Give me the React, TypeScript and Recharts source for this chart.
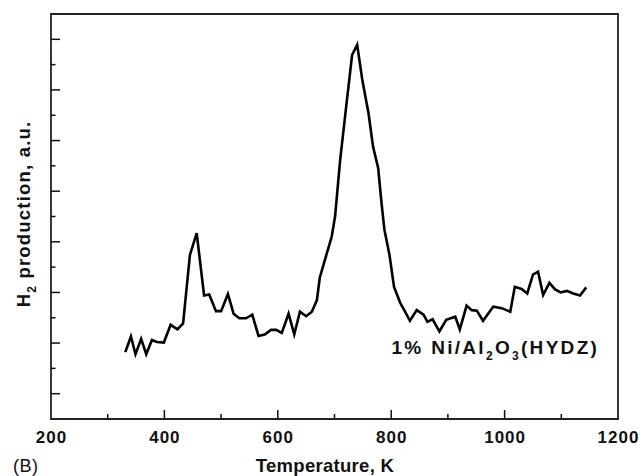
import React from 'react';
import { LineChart, Line, XAxis, YAxis, ReferenceArea } from 'recharts';

const temperatureK = [
  331, 341, 349, 359, 368, 378, 387, 399, 411, 423, 433, 445, 457, 470, 479, 491, 500, 512, 522, 532,
  544, 555, 566, 577, 588, 597, 607, 619, 629, 639, 650, 660, 669, 674, 683, 695, 701, 710, 720, 731,
  740, 749, 760, 768, 777, 783, 788, 797, 805, 816, 823, 833, 845, 857, 864, 873, 885, 897, 913, 921,
  933, 942, 951, 962, 980, 995, 1010, 1018, 1030, 1040, 1050, 1059, 1068, 1079, 1089, 1099, 1110, 1121, 1133, 1144,
];

const h2Signal = [
  0.82, 1.13, 0.78, 1.08, 0.78, 1.06, 1.02, 1.01, 1.36, 1.27, 1.39, 2.74, 3.17, 1.94, 1.96, 1.63, 1.63, 1.97, 1.58, 1.49,
  1.49, 1.56, 1.14, 1.17, 1.26, 1.26, 1.2, 1.58, 1.17, 1.62, 1.53, 1.62, 1.85, 2.29, 2.64, 3.1, 3.5, 4.62, 5.61, 6.69,
  6.89, 6.2, 5.54, 4.88, 4.46, 3.76, 3.24, 2.74, 2.11, 1.79, 1.65, 1.44, 1.65, 1.56, 1.42, 1.47, 1.23, 1.46, 1.52, 1.27,
  1.74, 1.65, 1.64, 1.44, 1.72, 1.69, 1.62, 2.11, 2.07, 1.98, 2.35, 2.41, 1.95, 2.19, 2.06, 2.0, 2.03, 1.98, 1.94, 2.1,
];

const xTicks = [200, 300, 400, 500, 600, 700, 800, 900, 1000, 1100, 1200];
const xTickLabels = ['200', '', '400', '', '600', '', '800', '', '1000', '', '1200'];
const yTicks = [0, 0.5, 1, 1.5, 2, 2.5, 3, 3.5, 4, 4.5, 5, 5.5, 6, 6.5, 7];

const xAxisTitle = 'Temperature, K';
const yAxisTitle = 'production, a.u.';
const panelLabel = '(B)';

const data = temperatureK.map((t, i) => ({ t, v: h2Signal[i] }));

const FONT = '"Liberation Sans", Arial, Helvetica, sans-serif';
const INK = '#111';

const XTick = (props: any) => {
  const { x, y, payload } = props;
  const idx = xTicks.indexOf(payload.value);
  const label = idx >= 0 ? xTickLabels[idx] : '';
  const major = label !== '';
  const isEdge = payload.value === 200 || payload.value === 1200;
  return (
    <g>
      {!isEdge && (
        <line x1={x} x2={x} y1={y} y2={y - (major ? 9 : 5)} stroke={INK} strokeWidth={1.5} />
      )}
      {label && (
        <text
          x={x + 0.5}
          y={y + 24}
          textAnchor="middle"
          fontFamily={FONT}
          fontWeight="bold"
          fontSize={17}
          letterSpacing={1}
          fill={INK}
        >
          {label}
        </text>
      )}
    </g>
  );
};

const YTick = (props: any) => {
  const { x, y, payload } = props;
  const major = Number.isInteger(payload.value);
  return <line x1={x} x2={x + (major ? 9 : 4.5)} y1={y} y2={y} stroke={INK} strokeWidth={1.5} />;
};

export default function App() {
  return (
    <div style={{ position: 'absolute', left: 0, top: 0, width: 640, height: 476 }}>
      <LineChart
        width={640}
        height={476}
        data={data}
        margin={{ top: 14, right: 22, left: 0, bottom: 0 }}
        style={{ overflow: 'visible' }}
      >
        <XAxis
          dataKey="t"
          type="number"
          domain={[200, 1200]}
          ticks={xTicks}
          interval={0}
          axisLine={false}
          tickLine={false}
          tickSize={0}
          tickMargin={0}
          height={57}
          tick={<XTick />}
          allowDataOverflow
        />
        <YAxis
          type="number"
          domain={[-0.5, 7.5]}
          ticks={yTicks}
          interval={0}
          axisLine={false}
          tickLine={false}
          tickSize={0}
          tickMargin={0}
          width={51}
          tick={<YTick />}
          allowDataOverflow
        />
        <ReferenceArea
          x1={200}
          x2={1200}
          y1={-0.5}
          y2={7.5}
          fill="none"
          fillOpacity={0}
          stroke="#222"
          strokeWidth={1.8}
          ifOverflow="visible"
        />
        <Line
          dataKey="v"
          type="linear"
          stroke="#000"
          strokeWidth={2.6}
          dot={false}
          isAnimationActive={false}
        />
      </LineChart>
      <svg
        width={640}
        height={476}
        style={{ position: 'absolute', left: 0, top: 0, pointerEvents: 'none' }}
      >
        <text
          x={391.5}
          y={353.5}
          fontFamily={FONT}
          fontWeight="bold"
          fontSize={19}
          letterSpacing={2.3}
          fill={INK}
        >
          <tspan>1% Ni/Al</tspan>
          <tspan fontSize={12} dy={6}>2</tspan>
          <tspan dy={-6}>O</tspan>
          <tspan fontSize={12} dy={6}>3</tspan>
          <tspan dy={-6}>(HYDZ)</tspan>
        </text>
        <text
          x={325}
          y={471.5}
          textAnchor="middle"
          fontFamily={FONT}
          fontWeight="bold"
          fontSize={18.5}
          letterSpacing={0.3}
          fill={INK}
        >
          {xAxisTitle}
        </text>
        <text x={13} y={472} fontFamily={FONT} fontSize={18} letterSpacing={0.5} fill={INK}>
          {panelLabel}
        </text>
        <g transform="translate(30, 214) rotate(-90)">
          <text
            x={0}
            y={0}
            textAnchor="middle"
            fontFamily={FONT}
            fontWeight="bold"
            fontSize={18.5}
            letterSpacing={1.2}
            fill={INK}
          >
            <tspan>H</tspan>
            <tspan fontSize={12} dy={6}>2</tspan>
            <tspan dy={-6}> {yAxisTitle}</tspan>
          </text>
        </g>
      </svg>
    </div>
  );
}
